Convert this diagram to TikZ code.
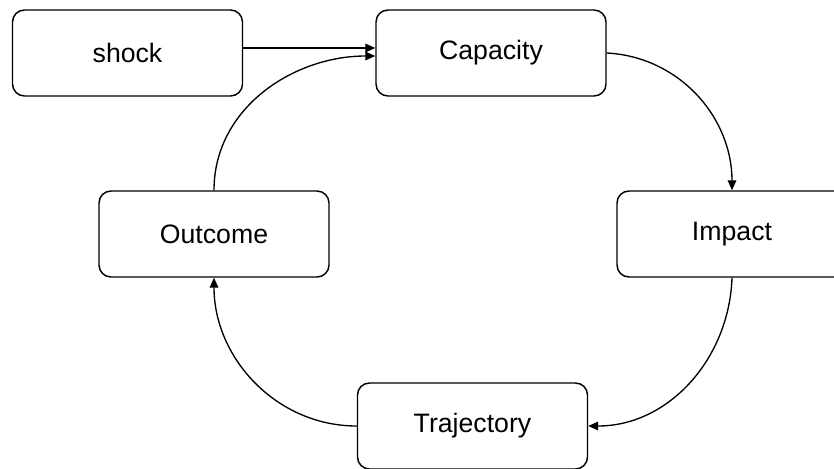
\documentclass[tikz,border=0pt]{standalone}
\usepackage{fontspec}
\setmainfont{Liberation Sans}
\usetikzlibrary{arrows.meta}
\begin{document}
\begin{tikzpicture}[x=0.75pt,y=-0.75pt,
  box/.style={draw, line width=1.1pt, rounded corners=9pt, minimum width=172.5pt, minimum height=64.5pt, inner sep=0pt, font=\fontsize{20}{24}\selectfont},
  arr/.style={line width=1pt, -{Triangle[length=7.5pt,width=6.5pt]}}]
\useasboundingbox (0,0) rectangle (834,468);
\node[box] (shock) at (127.5,53) {shock};
\node[box] (cap) at (491,53) {Capacity};
\node[box] (impact) at (732,234) {Impact};
\node[box] (outcome) at (214,234) {Outcome};
\node[box] (traj) at (472.5,426) {Trajectory};
\draw[arr] ([yshift=3.75pt]shock.east) -- ([yshift=3.75pt]cap.west);
\draw[arr] (cap.east) to[out=-3,in=90] (impact.north);
\draw[arr] (impact.south) to[out=-92,in=0] (traj.east);
\draw[arr] (traj.west) to[out=180,in=-90] (outcome.south);
\draw[arr] (outcome.north) to[out=90,in=180] ([yshift=-2.25pt]cap.west);
\end{tikzpicture}
\end{document}
